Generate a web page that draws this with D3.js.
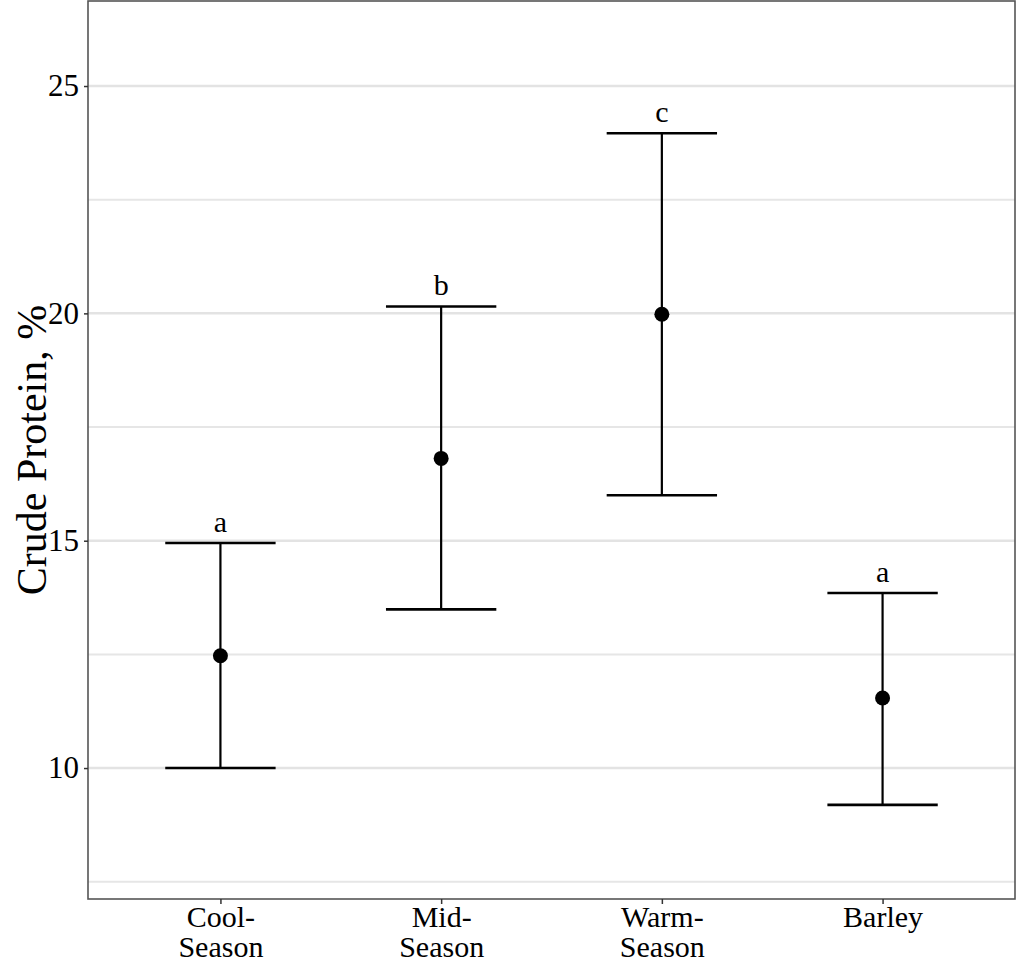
<!DOCTYPE html>
<html>
<head>
<meta charset="utf-8">
<script src="https://cdn.jsdelivr.net/npm/d3@7"></script>
<style>
  html, body { margin: 0; padding: 0; background: #fff; }
  svg { display: block; }
  svg text { font-family: "Liberation Serif", "Times New Roman", serif !important; }
</style>
</head>
<body>
<svg id="chart" width="1016" height="961"></svg>
<script>
const categories = ["Cool-\nSeason", "Mid-\nSeason", "Warm-\nSeason", "Barley"];
const means = [12.47, 16.81, 19.98, 11.54];
const lower = [10.0, 13.49, 16.0, 9.19];
const upper = [14.95, 20.15, 23.96, 13.85];
const letters = ["a", "b", "c", "a"];
const majorTicks = [10, 15, 20, 25];
const minorTicks = [7.5, 12.5, 17.5, 22.5];
const yLabel = "Crude Protein, %";

const SERIF = '"Liberation Serif", "Times New Roman", serif';
const svg = d3.select("#chart");
const panel = { left: 88, top: 1, right: 1015, bottom: 899 };

const y = d3.scaleLinear().domain([7.12, 26.87]).range([panel.bottom, panel.top]);
const x = d3.scalePoint().domain(categories).range([panel.left, panel.right]).padding(0.6);
const step = x.step();
const capHalf = step * 0.25;

// Gridlines
svg.append("g").selectAll("line.minor").data(minorTicks).join("line")
  .attr("x1", panel.left).attr("x2", panel.right)
  .attr("y1", d => y(d)).attr("y2", d => y(d))
  .attr("stroke", "#e6e6e6").attr("stroke-width", 2);
svg.append("g").selectAll("line.major").data(majorTicks).join("line")
  .attr("x1", panel.left).attr("x2", panel.right)
  .attr("y1", d => y(d)).attr("y2", d => y(d))
  .attr("stroke", "#e3e3e3").attr("stroke-width", 2.5);

// Error bars
const g = svg.append("g");
categories.forEach((c, i) => {
  const cx = x(c);
  g.append("line").attr("x1", cx).attr("x2", cx).attr("y1", y(lower[i])).attr("y2", y(upper[i]))
    .attr("stroke", "#000").attr("stroke-width", 2.2);
  [lower[i], upper[i]].forEach(v => {
    g.append("line").attr("x1", cx - capHalf).attr("x2", cx + capHalf).attr("y1", y(v)).attr("y2", y(v))
      .attr("stroke", "#000").attr("stroke-width", 2.6);
  });
  g.append("circle").attr("cx", cx).attr("cy", y(means[i])).attr("r", 7.5).attr("fill", "#000");
  g.append("text").attr("x", cx).attr("y", y(upper[i] + 0.48)).attr("dy", "0.35em")
    .attr("text-anchor", "middle").style("font-size", "30px").style("font-family", SERIF)
    .attr("fill", "#000").text(letters[i]);
});

// Panel border
svg.append("rect").attr("x", panel.left).attr("y", panel.top)
  .attr("width", panel.right - panel.left).attr("height", panel.bottom - panel.top)
  .attr("fill", "none").attr("stroke", "#555").attr("stroke-width", 1.6);

// Y axis
const yAxis = svg.append("g").attr("transform", `translate(${panel.left},0)`)
  .call(d3.axisLeft(y).tickValues(majorTicks).tickSize(4).tickPadding(5));
yAxis.attr("font-family", null);
yAxis.select(".domain").remove();
yAxis.selectAll(".tick line").attr("stroke", "#333").attr("stroke-width", 1.5);
yAxis.selectAll(".tick text").style("font-size", "31px").style("font-family", SERIF).attr("fill", "#000");

// X axis
const xAxis = svg.append("g").attr("transform", `translate(0,${panel.bottom})`)
  .call(d3.axisBottom(x).tickSize(5).tickFormat(""));
xAxis.attr("font-family", null);
xAxis.select(".domain").remove();
xAxis.selectAll(".tick line").attr("stroke", "#333").attr("stroke-width", 1.5);
xAxis.selectAll(".tick").each(function(d) {
  const lines = d.split("\n");
  const t = d3.select(this).append("text").attr("fill", "#000")
    .style("font-size", "30px").style("font-family", SERIF)
    .attr("text-anchor", "middle");
  lines.forEach((ln, k) => {
    t.append("tspan").attr("x", 0).attr("y", 28 + k * 30).text(ln);
  });
});

// Y label
svg.append("text").attr("transform", `translate(31,${(panel.top + panel.bottom) / 2}) rotate(-90)`)
  .attr("text-anchor", "middle").attr("dy", "0.35em")
  .style("font-size", "42px").style("font-family", SERIF).attr("fill", "#000")
  .text(yLabel);
</script>
</body>
</html>
